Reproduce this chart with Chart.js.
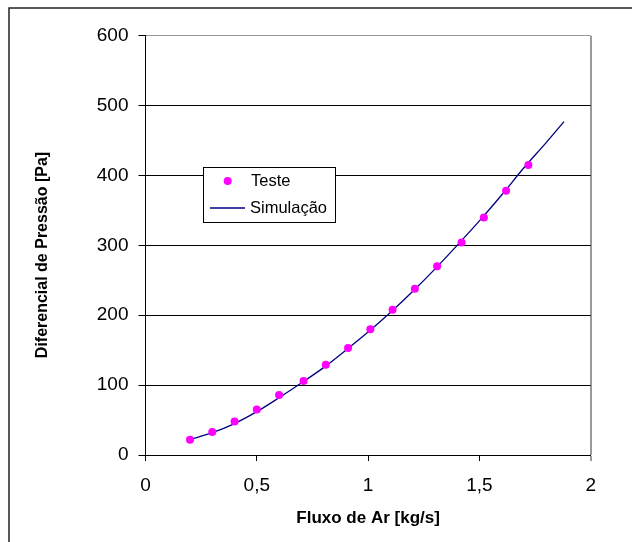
<!DOCTYPE html>
<html>
<head>
<meta charset="utf-8">
<script src="https://cdn.jsdelivr.net/npm/chart.js@4/dist/chart.umd.min.js"></script>
<style>
  html, body { margin: 0; padding: 0; background: #fff; }
  #wrap { position: relative; width: 632px; height: 542px; }
</style>
</head>
<body>
<div id="wrap"><canvas id="chart" width="632" height="542"></canvas></div>
<script>
// dados medidos (Teste)
const testeX = [0.2, 0.3, 0.4, 0.5, 0.6, 0.71, 0.81, 0.91, 1.01, 1.11, 1.21, 1.31, 1.42, 1.52, 1.62, 1.72];
const testeY = [22, 33, 48, 65, 86, 106, 129, 153, 180, 208, 238, 270, 304, 340, 378, 415];

// curva da simulação
const simX = [0.2, 0.3, 0.4, 0.5, 0.6, 0.7, 0.8, 0.9, 1.0, 1.1, 1.2, 1.3, 1.4, 1.5, 1.6, 1.7, 1.8, 1.88];
const simY = [22, 32, 45, 62, 82, 103, 125, 150, 176, 204, 234, 266, 300, 335, 372, 411, 447, 477];

const xTicks = [0, 0.5, 1, 1.5, 2];
const yTicks = [0, 100, 200, 300, 400, 500, 600];

const seriesNames = ["Teste", "Simulação"];
const xTitle = "Fluxo de Ar [kg/s]";
const yTitle = "Diferencial de Pressão [Pa]";

const FONT = "'Liberation Sans', Arial, sans-serif";

const frame = {
    id: "frame",
    beforeDraw(chart) {
        const ctx = chart.ctx;
        ctx.save();
        ctx.fillStyle = "#fff";
        ctx.fillRect(0, 0, chart.width, chart.height);
        ctx.strokeStyle = "#222";
        ctx.lineWidth = 1.5;
        ctx.beginPath();
        ctx.moveTo(9, chart.height + 2);
        ctx.lineTo(9, 8);
        ctx.lineTo(chart.width + 2, 8);
        ctx.stroke();
        ctx.restore();
    }
};

const extras = {
    id: "extras",
    afterDraw(chart) {
        const ctx = chart.ctx;
        ctx.save();
        // titulo do eixo y
        ctx.translate(42.5, 255);
        ctx.rotate(-Math.PI / 2);
        ctx.font = "bold 16px " + FONT;
        ctx.fillStyle = "#000";
        ctx.textAlign = "center";
        ctx.textBaseline = "middle";
        ctx.fillText(yTitle, 0, 0);
        ctx.restore();

        // legenda
        const ds = chart.data.datasets;
        ctx.save();
        ctx.fillStyle = "#fff";
        ctx.fillRect(203.5, 167.5, 132, 55);
        ctx.strokeStyle = "#000";
        ctx.lineWidth = 1;
        ctx.strokeRect(203.5, 167.5, 132, 55);

        ctx.fillStyle = ds[0].backgroundColor;
        ctx.beginPath();
        ctx.arc(227.7, 181, 4, 0, Math.PI * 2);
        ctx.fill();

        ctx.strokeStyle = ds[1].borderColor;
        ctx.lineWidth = 1.5;
        ctx.beginPath();
        ctx.moveTo(210, 208);
        ctx.lineTo(245, 208);
        ctx.stroke();

        ctx.font = "16.5px " + FONT;
        ctx.fillStyle = "#000";
        ctx.textAlign = "left";
        ctx.textBaseline = "middle";
        ctx.fillText(ds[0].label, 251, 181);
        ctx.fillText(ds[1].label, 250, 208);
        ctx.restore();
    }
};

const ctx = document.getElementById("chart").getContext("2d");

new Chart(ctx, {
    type: "scatter",
    data: {
        datasets: [
            {
                label: seriesNames[0],
                data: testeX.map((x, i) => ({ x: x, y: testeY[i] })),
                backgroundColor: "#FF00FF",
                borderColor: "#FF00FF",
                pointRadius: 4,
                pointBorderWidth: 0,
                showLine: false,
                order: 0
            },
            {
                label: seriesNames[1],
                data: simX.map((x, i) => ({ x: x, y: simY[i] })),
                borderColor: "#000080",
                backgroundColor: "#000080",
                borderWidth: 1.3,
                pointRadius: 0,
                showLine: true,
                cubicInterpolationMode: "monotone",
                order: 1
            }
        ]
    },
    options: {
        responsive: false,
        animation: false,
        layout: { padding: { top: 35.7, right: 41.3, left: 0, bottom: 0 } },
        plugins: {
            legend: { display: false },
            tooltip: { enabled: false }
        },
        scales: {
            x: {
                type: "linear",
                min: 0,
                max: 2,
                afterFit: (scale) => { scale.height = 87; },
                afterBuildTicks: (scale) => { scale.ticks = xTicks.map(v => ({ value: v })); },
                ticks: {
                    color: "#000",
                    font: { family: FONT, size: 19 },
                    padding: 13,
                    maxRotation: 0,
                    callback: (v) => String(v).replace(".", ",")
                },
                grid: {
                    drawOnChartArea: true,
                    color: (c) => (c.tick && c.tick.value === 2 ? "#999" : "rgba(0,0,0,0)"),
                    lineWidth: (c) => (c.tick && c.tick.value === 2 ? 2 : 1),
                    tickColor: (c) => (c.tick && c.tick.value === 2 ? "#999" : "#000"),
                    tickLength: 6
                },
                border: { color: "#000", width: 1 },
                title: {
                    display: true,
                    text: xTitle,
                    color: "#000",
                    font: { family: FONT, size: 17, weight: "bold" },
                    padding: { top: 0, bottom: 13 }
                }
            },
            y: {
                min: 0,
                max: 600,
                afterFit: (scale) => { scale.width = 145.5; },
                afterBuildTicks: (scale) => { scale.ticks = yTicks.map(v => ({ value: v })); },
                ticks: {
                    color: "#000",
                    font: { family: FONT, size: 19 },
                    padding: 10
                },
                grid: {
                    color: (c) => (c.tick && c.tick.value === 600 ? "#999" : "#000"),
                    tickColor: "#000",
                    tickLength: 7
                },
                border: { color: "#000", width: 1 }
            }
        }
    },
    plugins: [frame, extras]
});
</script>
</body>
</html>
